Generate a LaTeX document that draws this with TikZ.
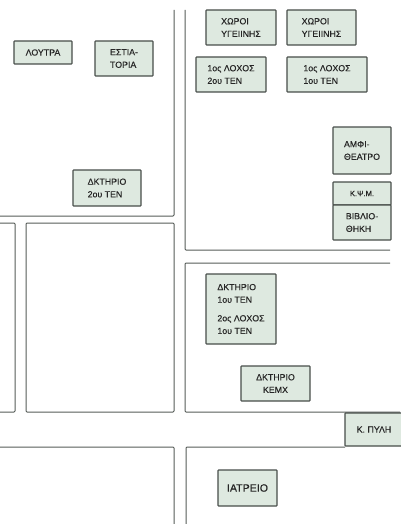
\documentclass[tikz,border=0pt]{standalone}
\usepackage{fontspec}
\setmainfont[FakeBold=0.35]{Liberation Sans}
\definecolor{hutfill}{HTML}{DEE9E0}
\definecolor{hutline}{HTML}{474D49}
\definecolor{roadline}{HTML}{565C58}

\begin{document}
\begin{tikzpicture}[
    x=1pt, y=-1pt,
    hut/.style={draw=hutline, fill=hutfill, line width=1.1pt, rounded corners=0.6pt,
                align=left, inner sep=0pt, text=black!85,
                font=\fontsize{8.8}{12.6}\selectfont},
    road/.style={draw=roadline, line width=1pt, rounded corners=1pt}
]
\useasboundingbox (0,0) rectangle (400,524);

% road edges
\draw[road] (174,10) -- (174,216) -- (0,216);
\draw[road] (0,223) -- (15,223) -- (15,412) -- (0,412);
\draw[road] (26,223) rectangle (174,412);
\draw[road] (185,10) -- (185,250) -- (390,250);
\draw[road] (390,263) -- (185,263) -- (185,412) -- (400,412);
\draw[road] (0,447) -- (174,447) -- (174,524);
\draw[road] (186,524) -- (186,447) -- (345,447);

% left side
\node[hut, minimum width=58pt, minimum height=23pt] (loutra) at (43,52.5) {ΛΟΥΤΡΑ};
\node[hut, minimum width=58pt, minimum height=35pt] (estiatoria) at (124,58.5) {ΕΣΤΙΑ-\\ΤΟΡΙΑ};
\node[hut, minimum width=68pt, minimum height=36pt] (dktirio2) at (107,188) {ΔΚΤΗΡΙΟ\\2ου ΤΕΝ};

% right side, top
\node[hut, minimum width=70pt, minimum height=35pt] (wc1) at (241,27.5) {ΧΩΡΟΙ\\ΥΓΕΙΙΝΗΣ};
\node[hut, minimum width=69pt, minimum height=35pt] (wc2) at (321.5,27.5) {ΧΩΡΟΙ\\ΥΓΕΙΙΝΗΣ};
\node[hut, minimum width=70pt, minimum height=35pt] (lochos12) at (231,74.5) {1ος ΛΟΧΟΣ\\2ου ΤΕΝ};
\node[hut, minimum width=80pt, minimum height=35pt] (lochos11) at (327,74.5) {1ος ΛΟΧΟΣ\\1ου ΤΕΝ};
\node[hut, minimum width=58pt, minimum height=47pt] (amfi) at (362,150.5) {ΑΜΦΙ-\\ΘΕΑΤΡΟ};
\node[hut, minimum width=58pt, minimum height=23pt, font=\fontsize{7.6}{10}\selectfont] (kpsm) at (362,193.5) {Κ.Ψ.Μ.};
\node[hut, minimum width=58pt, minimum height=35pt] (vivlio) at (362,222.5) {ΒΙΒΛΙΟ-\\ΘΗΚΗ};

% right side, bottom
\node[hut, minimum width=70pt, minimum height=70pt] (dktirio1) at (241,309)
    {ΔΚΤΗΡΙΟ\\1ου ΤΕΝ\\[6pt]2ος ΛΟΧΟΣ\\1ου ΤΕΝ};
\node[hut, minimum width=69pt, minimum height=35pt, align=center] (kemx) at (275.5,383.5) {ΔΚΤΗΡΙΟ\\ΚΕΜΧ};
\node[hut, minimum width=58pt, minimum height=33pt] (pyli) at (374,429.5) {Κ. ΠΥΛΗ};
\node[hut, minimum width=59pt, minimum height=36pt, font=\fontsize{10.6}{12}\selectfont] (iatreio) at (247.5,488) {ΙΑΤΡΕΙΟ};

\end{tikzpicture}
\end{document}
